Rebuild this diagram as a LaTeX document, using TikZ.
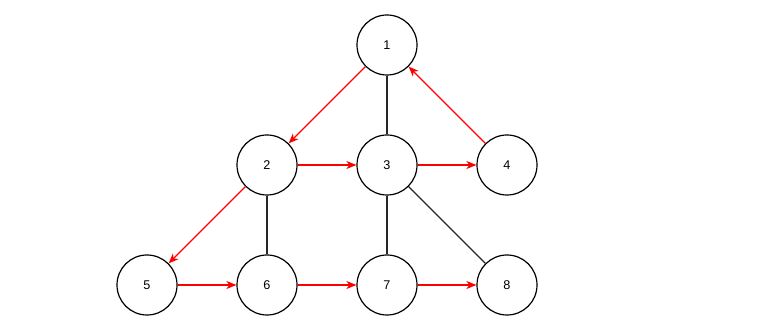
\documentclass[tikz,border=0pt]{standalone}
\usepackage{fontspec}
\setmainfont{Liberation Sans}
\usetikzlibrary{arrows.meta}
\begin{document}
\begin{tikzpicture}[x=0.75pt,y=-0.75pt,
  vtx/.style={circle,draw=black,line width=0.9pt,minimum size=45pt,inner sep=0pt,font=\fontsize{9.5}{11}\selectfont},
  redarrow/.style={draw=red,line width=0.9pt,-{Stealth[length=7.5pt,width=6pt,inset=2.2pt]}},
  plain/.style={draw=black!85,line width=0.9pt}]
\useasboundingbox (0,0) rectangle (777,334);
\node[vtx] (n1) at (387,45) {1};
\node[vtx] (n2) at (267,165) {2};
\node[vtx] (n3) at (387,165) {3};
\node[vtx] (n4) at (507,165) {4};
\node[vtx] (n5) at (147,285) {5};
\node[vtx] (n6) at (267,285) {6};
\node[vtx] (n7) at (387,285) {7};
\node[vtx] (n8) at (507,285) {8};
\draw[redarrow] (n1) -- (n2);
\draw[redarrow] (n4) -- (n1);
\draw[redarrow] (n2) -- (n3);
\draw[redarrow] (n3) -- (n4);
\draw[redarrow] (n2) -- (n5);
\draw[redarrow] (n5) -- (n6);
\draw[redarrow] (n6) -- (n7);
\draw[redarrow] (n7) -- (n8);
\draw[plain] (n1) -- (n3);
\draw[plain] (n2) -- (n6);
\draw[plain] (n3) -- (n7);
\draw[plain] (n3) -- (n8);
\end{tikzpicture}
\end{document}
